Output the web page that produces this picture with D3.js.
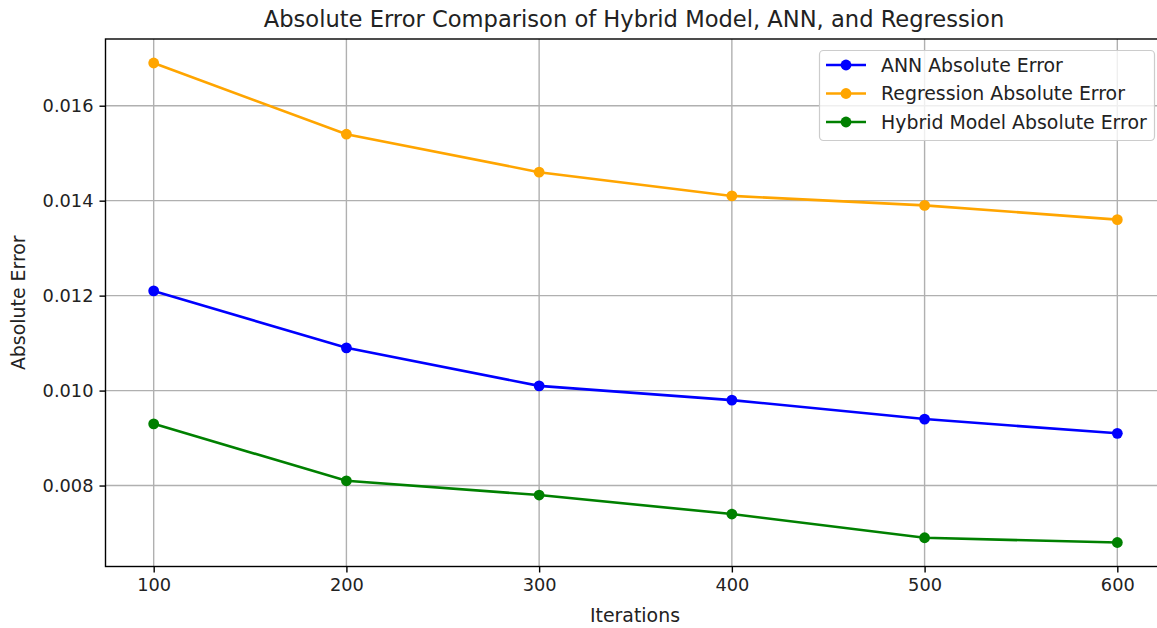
<!DOCTYPE html>
<html>
<head>
<meta charset="utf-8">
<script src="https://cdn.jsdelivr.net/npm/d3@7"></script>
<style>
  body { margin: 0; background: #fff; }
  svg text { font-family: "DejaVu Sans", sans-serif; fill: #222; }
</style>
</head>
<body>
<svg id="svg" width="1157" height="628"></svg>
<script>
var iterations = [100, 200, 300, 400, 500, 600];
var annError = [0.0121, 0.0109, 0.0101, 0.0098, 0.0094, 0.0091];
var regressionError = [0.0169, 0.0154, 0.0146, 0.0141, 0.0139, 0.0136];
var hybridError = [0.0093, 0.0081, 0.0078, 0.0074, 0.0069, 0.0068];
var xTicks = [100, 200, 300, 400, 500, 600];
var yTicks = [0.008, 0.010, 0.012, 0.014, 0.016];

var series = [
  {name: "ANN Absolute Error", values: annError, color: "#0000ff"},
  {name: "Regression Absolute Error", values: regressionError, color: "#ffa500"},
  {name: "Hybrid Model Absolute Error", values: hybridError, color: "#008000"}
];

var svg = d3.select("#svg");
// plot box (right spine lies past the window edge, as in the reference)
var plotL = 105.5, plotR = 1165.5, plotT = 39, plotB = 566.5;

var x = d3.scaleLinear().domain([75, 625]).range([plotL, plotR]);
var y = d3.scaleLinear().domain([0.006295, 0.017405]).range([plotB, plotT]);

// grid
svg.append("g").selectAll("line").data(xTicks).enter().append("line")
  .attr("x1", function (d) { return x(d); }).attr("x2", function (d) { return x(d); })
  .attr("y1", plotT).attr("y2", plotB)
  .style("stroke", "#b0b0b0").style("stroke-width", 1.4);
svg.append("g").selectAll("line").data(yTicks).enter().append("line")
  .attr("y1", function (d) { return y(d); }).attr("y2", function (d) { return y(d); })
  .attr("x1", plotL).attr("x2", plotR)
  .style("stroke", "#b0b0b0").style("stroke-width", 1.4);

// axes
var xAxis = svg.append("g").attr("transform", "translate(0," + plotB + ")")
  .call(d3.axisBottom(x).tickValues(xTicks).tickSize(6).tickPadding(6).tickSizeOuter(0));
var yAxis = svg.append("g").attr("transform", "translate(" + plotL + ",0)")
  .call(d3.axisLeft(y).tickValues(yTicks).tickFormat(d3.format(".3f")).tickSize(6).tickPadding(6).tickSizeOuter(0));
[xAxis, yAxis].forEach(function (a) {
  a.selectAll("text").style("font-size", "17.8px").style("font-family", "DejaVu Sans").attr("fill", "#222");
  a.selectAll("line").style("stroke", "#000").style("stroke-width", 1.4);
  a.select(".domain").remove();
});

// spines
svg.append("rect").attr("x", plotL).attr("y", plotT).attr("width", plotR - plotL).attr("height", plotB - plotT)
  .style("fill", "none").style("stroke", "#000").style("stroke-width", 1.4);

// lines
var line = d3.line()
  .x(function (d, i) { return x(iterations[i]); })
  .y(function (d) { return y(d); });

series.forEach(function (s) {
  svg.append("path").datum(s.values).attr("d", line)
    .style("fill", "none").style("stroke", s.color).style("stroke-width", 2.6);
  svg.append("g").selectAll("circle").data(s.values).enter().append("circle")
    .attr("cx", function (d, i) { return x(iterations[i]); })
    .attr("cy", function (d) { return y(d); })
    .attr("r", 5.4)
    .style("fill", s.color);
});

// title and labels
svg.append("text").attr("x", 634).attr("y", 27)
  .attr("text-anchor", "middle").style("font-size", "22.6px")
  .text("Absolute Error Comparison of Hybrid Model, ANN, and Regression");
svg.append("text").attr("x", 635).attr("y", 622)
  .attr("text-anchor", "middle").style("font-size", "18.9px").text("Iterations");
svg.append("text").attr("transform", "translate(25," + ((plotT + plotB) / 2) + ") rotate(-90)")
  .attr("text-anchor", "middle").style("font-size", "18.9px").text("Absolute Error");

// legend
var legend = svg.append("g");
legend.append("rect").attr("x", 819.5).attr("y", 50.5).attr("width", 335).attr("height", 90)
  .attr("rx", 4).style("fill", "rgba(255,255,255,0.8)").style("stroke", "#cccccc").style("stroke-width", 1.2);
var rows = legend.selectAll("g").data(series).enter().append("g")
  .attr("transform", function (d, i) { return "translate(0," + (65 + i * 28.5) + ")"; });
rows.append("line").attr("x1", 826).attr("x2", 866).attr("y1", 0).attr("y2", 0)
  .style("stroke", function (d) { return d.color; }).style("stroke-width", 2.6);
rows.append("circle").attr("cx", 846).attr("cy", 0).attr("r", 5.4)
  .style("fill", function (d) { return d.color; });
rows.append("text").attr("x", 881).attr("y", 6.6).style("font-size", "18.9px")
  .text(function (d) { return d.name; });
</script>
</body>
</html>
